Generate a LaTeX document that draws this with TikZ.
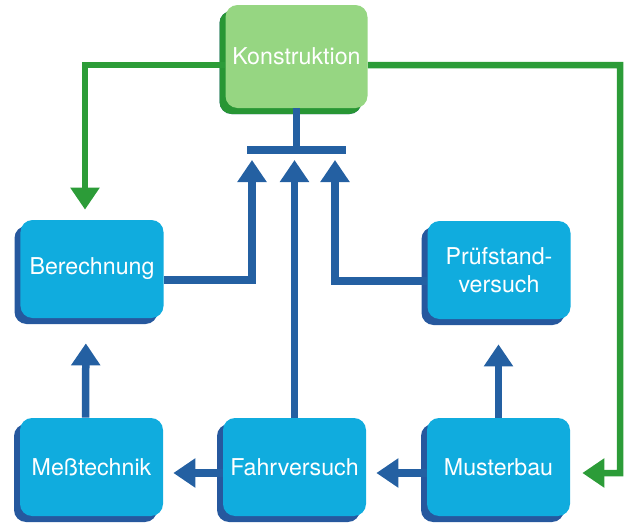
\documentclass[tikz,border=0pt]{standalone}
\usepackage{fontspec}
\setmainfont{TeX Gyre Heros}
\usetikzlibrary{arrows.meta,shadows}

\definecolor{boxfill}{RGB}{16,172,222}
\definecolor{boxshade}{RGB}{38,88,158}
\definecolor{lineblue}{RGB}{36,96,162}
\definecolor{kfill}{RGB}{150,214,130}
\definecolor{kshade}{RGB}{40,150,52}
\definecolor{linegreen}{RGB}{44,156,56}

\tikzset{
  unit/.style={rectangle,rounded corners=0.24cm,fill=boxfill,text=white,
    minimum width=2.86cm,minimum height=1.96cm,align=center,
    font=\fontsize{13.2}{16}\selectfont,
    drop shadow={shadow xshift=-0.12cm,shadow yshift=-0.12cm,fill=boxshade,opacity=1}},
  flow/.style={draw=lineblue,line width=0.15cm,
    -{Triangle[width=0.56cm,length=0.44cm]}},
  feed/.style={draw=linegreen,line width=0.13cm,
    -{Triangle[width=0.56cm,length=0.44cm]}}
}

\begin{document}
\begin{tikzpicture}

%SPACING
\useasboundingbox (0,0) rectangle (12.66,10.58);
%SPACING

\node[unit,fill=kfill,minimum width=2.84cm,minimum height=2.06cm,
  drop shadow={shadow xshift=-0.12cm,shadow yshift=-0.12cm,fill=kshade,opacity=1}]
  (v1) at (5.93,9.45) {Konstruktion};
\node[unit](v2) at (1.84,5.20) {Berechnung};
\node[unit](v3) at (9.98,5.18) {Prüfstand-\\versuch};
\node[unit](v4) at (1.83,1.24) {Meßtechnik};
\node[unit](v5) at (5.89,1.24) {Fahrversuch};
\node[unit](v6) at (9.97,1.24) {Musterbau};

\node[fill=lineblue,inner sep=0,minimum width=1.98cm,minimum height=0.16cm](v7) at (5.93,7.58) {};

\coordinate (inL) at (5.04,7.38);
\coordinate (inR) at (6.70,7.38);
\coordinate (turn) at (12.40,1.12);

\draw[draw=lineblue,line width=0.15cm] (v1.south) -- (v7.north);

\draw[flow] ([yshift=-0.22cm]v2.east) -| (inL);
\draw[flow] (v5.north) -- (v5.north |- inL);
\draw[flow] ([yshift=-0.22cm]v3.west) -| (inR);

\draw[flow,shorten >=0.5cm] ([xshift=-0.12cm]v4.north) -- ([xshift=-0.12cm]v2.south);
\draw[flow,shorten >=0.5cm] (v6.north) -- (v6.north |- v3.south);

\draw[flow,shorten >=0.2cm] ([yshift=-0.12cm]v6.west) -- ([yshift=-0.12cm]v5.east);
\draw[flow,shorten >=0.2cm] ([yshift=-0.12cm]v5.west) -- ([yshift=-0.12cm]v4.east);

\draw[feed] ([yshift=-0.17cm]v1.west) -| ([xshift=-0.14cm,yshift=0.2cm]v2.north);
\draw[feed] ([yshift=-0.17cm]v1.east) -| (turn) -- ([xshift=0.24cm,yshift=-0.12cm]v6.east);

\end{tikzpicture}
\end{document}
